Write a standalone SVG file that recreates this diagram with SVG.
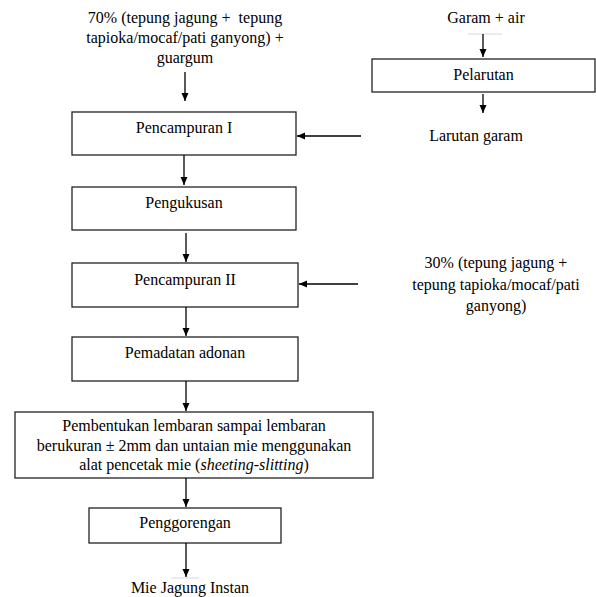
<svg xmlns="http://www.w3.org/2000/svg" width="596" height="597" viewBox="0 0 596 597">
<style>
text{font-size:16px;fill:#000;text-anchor:middle}
.box{fill:#fff;stroke:#222;stroke-width:1.3}
.c{stroke:#000;stroke-width:1.3;fill:none;marker-end:url(#ah)}
.faint{stroke:#d8d8d8;stroke-width:1}
</style>
<defs>
<marker id="ah" markerUnits="userSpaceOnUse" markerWidth="8" markerHeight="8" refX="8" refY="3.5" orient="auto">
<path d="M0,0 L8,3.5 L0,7 z" fill="#000"/>
</marker>
</defs>
<rect width="596" height="597" fill="#fff"/>
<g font-family="Liberation Serif, Times New Roman, DejaVu Serif, serif">
<g id="input1">
<text x="185" y="23">70% (tepung jagung +&#160; tepung</text>
<text x="185" y="43">tapioka/mocaf/pati ganyong) +</text>
<text x="185" y="63">guargum</text>
</g>
<g id="garam">
<text x="486" y="23">Garam + air</text>
<line class="faint" x1="468" y1="34" x2="502" y2="34"/>
</g>
<g id="pelarutan">
<rect class="box" x="372" y="59" width="223" height="33"/>
<text x="483.5" y="80">Pelarutan</text>
</g>
<g id="larutan">
<text x="476" y="141">Larutan garam</text>
</g>
<g id="pencampuran1">
<rect class="box" x="72" y="112" width="224" height="43"/>
<text x="184" y="133">Pencampuran I</text>
</g>
<g id="pengukusan">
<rect class="box" x="72" y="187" width="224" height="43"/>
<text x="184" y="208">Pengukusan</text>
</g>
<g id="pencampuran2">
<rect class="box" x="72" y="263" width="226" height="44"/>
<text x="185" y="285">Pencampuran II</text>
</g>
<g id="input2">
<text x="496" y="268">30% (tepung jagung +</text>
<text x="496" y="290">tepung tapioka/mocaf/pati</text>
<text x="496" y="311">ganyong)</text>
</g>
<g id="pemadatan">
<rect class="box" x="72" y="337" width="226" height="44"/>
<text x="185" y="358">Pemadatan adonan</text>
</g>
<g id="pembentukan">
<rect class="box" x="15" y="412" width="358" height="66"/>
<text x="194" y="431">Pembentukan lembaran sampai lembaran</text>
<text x="194" y="451">berukuran ± 2mm dan untaian mie menggunakan</text>
<text x="194" y="470">alat pencetak mie (<tspan font-style="italic">sheeting-slitting</tspan>)</text>
</g>
<g id="penggorengan">
<rect class="box" x="89" y="508" width="192" height="35"/>
<text x="185" y="528">Penggorengan</text>
</g>
<g id="output">
<line class="faint" x1="171" y1="578" x2="199" y2="578"/>
<text x="190" y="593">Mie Jagung Instan</text>
</g>
</g>
<g id="connectors">
<line class="c" x1="185" y1="72" x2="185" y2="101"/>
<line class="c" x1="184" y1="155" x2="184" y2="185"/>
<line class="c" x1="186" y1="233" x2="186" y2="262"/>
<line class="c" x1="186" y1="307" x2="186" y2="336"/>
<line class="c" x1="186" y1="381" x2="186" y2="411"/>
<line class="c" x1="186" y1="478" x2="186" y2="507"/>
<line class="c" x1="186" y1="543" x2="186" y2="577"/>
<line class="c" x1="483" y1="34" x2="483" y2="57"/>
<line class="c" x1="483" y1="94" x2="483" y2="113"/>
<line class="c" x1="361" y1="136" x2="297" y2="136"/>
<line class="c" x1="358" y1="284" x2="299" y2="284"/>
</g>
</svg>
